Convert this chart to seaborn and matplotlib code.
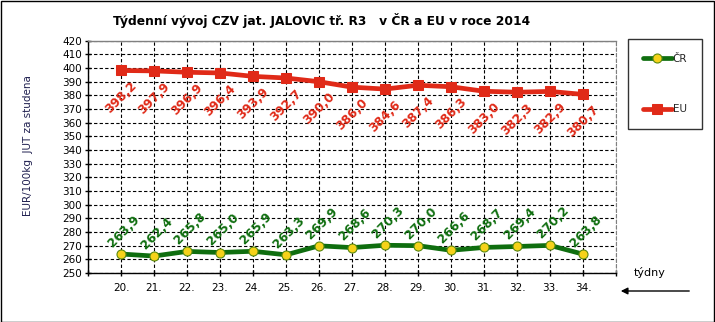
import matplotlib
matplotlib.use("Agg")
import matplotlib.pyplot as plt
import seaborn as sns
import pandas as pd
from matplotlib.patches import Rectangle

weeks = ["20.", "21.", "22.", "23.", "24.", "25.", "26.", "27.", "28.", "29.", "30.", "31.", "32.", "33.", "34."]
cr_values = [263.9, 262.4, 265.8, 265.0, 265.9, 263.3, 269.9, 268.6, 270.3, 270.0, 266.6, 268.7, 269.4, 270.2, 263.8]
eu_values = [398.2, 397.9, 396.9, 396.4, 393.9, 392.7, 390.0, 386.0, 384.6, 387.4, 386.3, 383.0, 382.3, 382.9, 380.7]
y_ticks = list(range(250, 421, 10))

title = "Týdenní vývoj CZV jat. JALOVIC tř. R3   v ČR a EU v roce 2014"
ylabel = "EUR/100kg  JUT za studena"
xlabel = "týdny"

sns.set_theme(style="white")
plt.rcParams["font.family"] = ["DejaVu Sans"]

W, H = 715, 322
fig = plt.figure(figsize=(W / 100, H / 100), dpi=100)
ax = fig.add_axes([88 / W, 1 - 273 / H, (616 - 88) / W, (273 - 40.7) / H])

df_cr = pd.DataFrame({"week": weeks, "value": cr_values})
df_eu = pd.DataFrame({"week": weeks, "value": eu_values})

green = "#0f6e0f"
red = "#e02a18"

sns.lineplot(data=df_cr, x="week", y="value", ax=ax, color=green, lw=3.4,
             marker="o", markersize=6.5, markerfacecolor="#f6d21a",
             markeredgecolor="#5a8a10", markeredgewidth=0.8, label="ČR", sort=False)
sns.lineplot(data=df_eu, x="week", y="value", ax=ax, color=red, lw=3.4,
             marker="s", markersize=6.5, markerfacecolor=red,
             markeredgecolor=red, label="EU", sort=False)

for i, v in enumerate(cr_values):
    ax.annotate(f"{v:.1f}".replace(".", ","), (i, v), xytext=(2, 16.5),
                textcoords="offset points", ha="center", va="center",
                rotation=45, color=green, fontsize=8.8, fontweight="bold")
for i, v in enumerate(eu_values):
    ax.annotate(f"{v:.1f}".replace(".", ","), (i, v), xytext=(0, -19.5),
                textcoords="offset points", ha="center", va="center",
                rotation=45, color=red, fontsize=8.8, fontweight="bold")

ax.set_xlim(-1, 15)
ax.set_ylim(250, 420)
ax.set_yticks(y_ticks)
ax.set_yticklabels([str(t) for t in y_ticks], fontsize=7.5, color="black")
ax.set_xticks(range(-1, 16))
ax.set_xticklabels([""] + weeks + [""], fontsize=7.5, color="black")
ax.tick_params(axis="y", direction="inout", length=5, width=1, color="black", pad=2, left=True)
ax.tick_params(axis="x", direction="inout", length=5, width=1, color="black", pad=5, bottom=True)

ax.grid(True, which="major", color="black", linestyle=(0, (3, 2)), linewidth=0.8)
ax.set_axisbelow(True)
for s in ["left", "bottom"]:
    ax.spines[s].set_color("black")
    ax.spines[s].set_linewidth(1)
ax.spines["top"].set_color("#808080")
ax.spines["top"].set_linewidth(1)
ax.spines["right"].set_visible(True)
ax.spines["right"].set_color("#808080")
ax.spines["right"].set_linestyle((0, (3, 2)))
ax.spines["right"].set_linewidth(0.8)

ax.set_xlabel("")
ax.set_ylabel(ylabel, fontsize=7.5, color="#202050")
ax.yaxis.set_label_coords(-0.104, 0.55)

fig.text(322 / W, 1 - 20 / H, title, ha="center", va="center",
         fontsize=8.8, fontweight="bold", color="black")

handles, labels = ax.get_legend_handles_labels()
ax.get_legend().remove()
leg = fig.legend(handles, labels, loc="upper left", bbox_to_anchor=(628 / W, 1 - 39 / H),
                 borderaxespad=0, frameon=True, fontsize=7.5, borderpad=1.4, labelspacing=3.9,
                 handlelength=2.8, handletextpad=0.1, fancybox=False)
leg.get_frame().set_edgecolor("black")
leg.get_frame().set_linewidth(1)
leg.get_frame().set_facecolor("white")

fig.text(650 / W, 1 - 273 / H, xlabel, ha="center", va="center", fontsize=8, color="black")
fig.add_artist(matplotlib.patches.FancyArrowPatch((692 / W, 1 - 291 / H), (618 / W, 1 - 291 / H),
               transform=fig.transFigure, arrowstyle="-|>", mutation_scale=10,
               color="black", lw=1))

fig.add_artist(Rectangle((0.5 / W, 0.5 / H), (W - 1.5) / W, (H - 1.5) / H,
                         transform=fig.transFigure, fill=False, edgecolor="black", lw=1))

fig.savefig("out.png", dpi=100)
